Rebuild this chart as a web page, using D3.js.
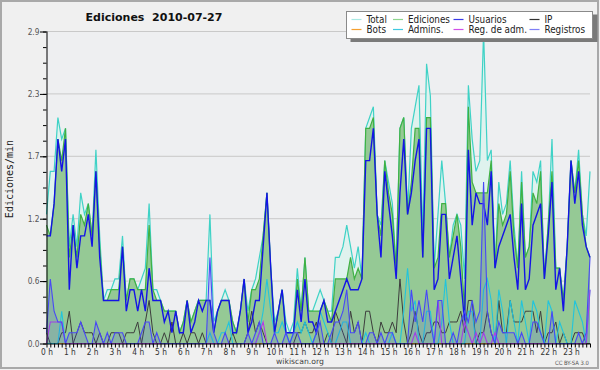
<!DOCTYPE html>
<html><head><meta charset="utf-8">
<script src="https://cdn.jsdelivr.net/npm/d3@7"></script>
<style>body{margin:0;background:#f0f0f0;} svg{display:block;}</style>
</head><body><svg id="c" width="600" height="370"></svg>
<script>
const hourLabels = ["0 h","1 h","2 h","3 h","4 h","5 h","6 h","7 h","8 h","9 h","10 h","11 h","12 h","13 h","14 h","15 h","16 h","17 h","18 h","19 h","20 h","21 h","22 h","23 h"];
const yTickLabels = ["0.0","0.6","1.2","1.7","2.3","2.9"];
const seriesNames = ["Total","Ediciones","Usuarios","IP","Bots","Admins.","Reg. de adm.","Registros"];

const total = [1.2,1.6,1.6,2.1,1.9,2.0,0.9,1.2,0.9,1.4, 1.2,1.3,1.0,1.8,1.0,0.4,0.5,0.5,0.6,0.6,
 1.0,0.4,0.6,0.6,0.5,0.6,0.7,1.3,0.5,0.5, 0.4,0.3,0.3,0.3,0.3,0.1,0.2,0.4,0.2,0.3,
 0.4,0.4,0.4,1.2,0.2,0.3,0.4,0.5,0.4,0.2, 0.1,0.3,0.6,0.3,0.5,0.6,0.8,1.0,1.4,0.7,
 0.2,0.3,0.5,0.2,0.1,0.2,0.7,0.3,0.8,0.3, 0.3,0.4,0.5,0.4,0.3,0.3,0.8,0.8,0.9,1.1,
 0.9,0.7,0.9,0.6,2.0,2.1,2.2,1.2,1.1,1.7, 1.5,1.3,0.7,2.0,2.1,1.2,2.0,2.2,2.4,1.0,
 2.6,2.3,0.7,1.2,1.7,1.3,0.8,1.1,1.2,1.1, 0.6,2.4,1.9,1.6,1.7,2.9,1.7,1.8,0.7,1.5,
 1.2,1.3,1.7,1.1,0.7,1.6,0.8,0.9,1.6,1.5, 1.7,0.6,1.1,1.9,0.7,0.7,0.4,0.9,1.7,1.4,
 1.8,1.2,1.0,1.6];
const ediciones = [1.1,1.0,1.3,1.9,1.7,2.0,0.8,1.1,0.8,1.2, 1.1,1.3,1.0,1.6,0.9,0.4,0.4,0.5,0.5,0.5,
 0.9,0.4,0.6,0.6,0.5,0.5,0.5,1.1,0.5,0.4, 0.4,0.3,0.3,0.3,0.3,0.1,0.2,0.4,0.2,0.3,
 0.4,0.4,0.4,0.4,0.1,0.3,0.4,0.4,0.4,0.2, 0.1,0.3,0.6,0.2,0.5,0.5,0.6,1.0,1.4,0.7,
 0.1,0.3,0.5,0.1,0.1,0.1,0.6,0.3,0.8,0.3, 0.3,0.3,0.3,0.4,0.3,0.2,0.6,0.6,0.6,0.6,
 0.8,0.6,0.7,0.6,2.0,2.0,2.1,1.2,1.0,1.7, 1.4,1.2,0.7,2.0,2.1,1.2,1.5,2.0,2.0,0.8,
 2.1,2.1,0.7,0.8,1.3,1.3,0.8,1.0,1.2,0.9, 0.3,2.2,1.5,1.4,1.4,1.4,1.4,1.7,0.7,1.3,
 1.1,1.2,1.6,1.0,0.7,1.5,0.8,0.9,1.4,1.3, 1.6,0.6,1.1,1.6,0.7,0.7,0.4,0.9,1.7,1.4,
 1.7,1.2,0.9,0.8];
const usuarios = [1.0,1.0,1.3,1.9,1.6,1.9,0.5,1.1,0.7,1.0, 1.0,1.2,0.9,1.6,0.8,0.4,0.4,0.4,0.4,0.4,
 0.9,0.3,0.5,0.5,0.3,0.5,0.3,0.7,0.4,0.4, 0.4,0.2,0.3,0.1,0.3,0.1,0.1,0.4,0.1,0.2,
 0.4,0.3,0.4,0.4,0.1,0.3,0.4,0.4,0.4,0.1, 0.1,0.3,0.6,0.1,0.2,0.4,0.4,0.9,1.4,0.7,
 0.1,0.3,0.5,0.1,0.1,0.1,0.5,0.2,0.6,0.2, 0.2,0.1,0.3,0.4,0.2,0.2,0.3,0.4,0.5,0.6,
 0.5,0.5,0.5,0.6,1.7,1.7,2.0,1.2,0.8,1.6, 1.3,1.0,0.6,1.4,1.9,1.2,1.4,1.7,1.9,0.8,
 2.0,2.0,0.5,0.6,1.2,1.2,0.6,0.8,1.0,0.6, 0.2,1.8,1.1,1.4,1.3,1.3,1.1,1.6,0.7,0.9,
 1.0,1.1,1.2,0.8,0.5,1.3,0.5,0.6,1.1,1.2, 1.3,0.6,1.0,1.5,0.5,0.7,0.3,0.9,1.7,1.3,
 1.6,1.1,0.9,0.8];
const ip = [0.1,0,0,0,0.1,0.1,0.3,0,0.1,0.2, 0.1,0.1,0.1,0,0.1,0,0,0.1,0.1,0.1,
 0,0.1,0.1,0.1,0.2,0,0.2,0.4,0.1,0, 0,0.1,0,0.2,0,0,0.1,0,0.1,0.1,
 0,0.1,0,0,0,0,0,0,0,0.1, 0,0,0,0.1,0.3,0.1,0.2,0.1,0,0,
 0,0,0,0,0,0,0.1,0.1,0.2,0.1, 0.1,0.2,0,0,0.1,0,0.3,0.2,0.1,0,
 0.3,0.1,0.2,0,0.3,0.3,0.1,0,0.2,0.1, 0.1,0.2,0.1,0.6,0.2,0,0.1,0.3,0.1,0,
 0.1,0.1,0.2,0.2,0.1,0.1,0.2,0.2,0.2,0.3, 0.1,0.4,0.4,0,0.1,0.1,0.3,0.1,0,0.4,
 0.1,0.1,0.4,0.2,0.2,0.2,0.3,0.3,0.3,0.1, 0.3,0,0.1,0.1,0.2,0,0.1,0,0,0.1,
 0.1,0.1,0,0];
const bots = [0,0,0,0,0,0,0,0,0,0, 0,0,0,0,0,0,0,0,0,0, 0,0,0,0,0,0,0,0,0,0, 0,0,0,0,0,0,0,0,0,0,
 0,0,0,0,0,0,0,0,0,0, 0,0,0,0,0,0,0,0,0,0, 0,0,0,0,0,0,0,0,0,0, 0,0,0,0,0,0,0,0,0,0,
 0,0,0,0,0,0,0,0,0,0, 0,0,0,0,0,0,0,0,0,0, 0,0,0,0,0,0,0,0,0,0, 0,0,0,0,0,0,0,0,0,0,
 0,0,0,0,0,0,0,0,0,0, 0,0,0,0,0,0,0,0,0,0, 0,0,0,0];
const admins = [0,0,0,0,0.3,0,0,0,0,0, 0,0,0,0,0,0,0,0,0,0, 0,0,0,0,0,0,0,0,0,0, 0,0,0,0,0,0,0,0,0,0,
 0,0,0,0.1,0,0,0.1,0.1,0.2,0, 0,0,0,0,0,0,0.1,0.3,0.6,0.3,
 0.1,0.1,0.2,0.1,0,0.1,0.2,0.1,0.2,0.1, 0,0.1,0.3,0.2,0.1,0,0,0.1,0.2,0.2,
 0,0,0,0,0.1,0,0,0,0,0, 0,0.1,0,0,0.3,0.7,0.3,0.4,0,0,
 0.3,0.3,0,0,0.2,0.6,0.2,0,0,0, 0,0.3,0.3,0,0,0.5,0.6,0.4,0,0.5,
 0.3,0,0.4,0.2,0,0.4,0.2,0,0.4,0.3, 0.1,0,0.4,0.3,0,0.2,0.1,0,0,0.4,
 0.3,0.2,0,0.5];
const regAdm = [0,0.2,0.2,0.2,0.2,0,0,0,0,0, 0,0,0,0,0,0,0,0,0,0, 0,0,0,0,0,0,0,0,0,0, 0,0,0,0,0,0,0,0,0,0,
 0,0,0,0,0,0,0,0,0,0, 0,0,0,0,0,0,0.1,0.2,0,0, 0,0,0,0,0,0,0,0,0,0, 0,0,0,0,0,0,0,0,0,0,
 0,0,0,0,0,0,0,0,0,0, 0,0,0,0,0,0,0,0.1,0,0, 0,0,0,0.4,0,0,0,0,0,0, 0.2,0.1,0,0.1,0,0.1,0,0,0.1,0,
 0,0,0,0,0,0,0,0,0,0, 0,0,0,0,0,0,0,0,0,0, 0,0,0,0.5];
const registros = [0.1,0.6,0.3,0.2,0.2,0,0.1,0.1,0.1,0.2, 0.1,0,0,0.2,0.1,0,0.1,0,0.1,0.1,
 0.1,0,0,0,0,0.1,0.2,0.2,0,0.1, 0,0,0,0,0,0,0,0,0,0,
 0,0,0,0.8,0.1,0,0,0.1,0,0, 0,0,0,0.1,0,0.1,0.2,0,0,0,
 0.1,0,0,0.1,0,0.1,0.1,0,0,0, 0,0.1,0.2,0,0,0.1,0.2,0.2,0.3,0.5,
 0.1,0.1,0.2,0,0,0.1,0.1,0,0.1,0, 0.1,0.1,0,0,0,0,0.5,0.2,0.4,0.2,
 0.5,0.2,0,0.4,0.4,0,0,0.1,0,0.2, 0.3,0.2,0.4,0.2,0.3,1.5,0.3,0.1,0,0.2,
 0.1,0.1,0.1,0.1,0,0.1,0,0,0.2,0.2, 0.1,0,0,0.3,0,0,0,0,0,0,
 0.1,0,0.1,0.8];

const W = 600, H = 370;
const svg = d3.select("#c");
const L = 46.5, R = 590, T = 31.5, B = 343.5;
const yMax = d3.max(total);
const x = d3.scaleLinear().domain([0, total.length - 1]).range([L, R]);
const y = d3.scaleLinear().domain([0, yMax]).range([B, T]);

svg.append("rect").attr("width", W).attr("height", H).attr("fill", "#f0f0f0");
svg.append("rect").attr("x", 1).attr("y", 1).attr("width", 597).attr("height", 367)
  .attr("fill", "none").attr("stroke", "#a9a9a9").attr("stroke-width", 2);
svg.append("rect").attr("x", L).attr("y", T).attr("width", R - L).attr("height", B - T).attr("fill", "#eeeff1");

// grid
const majorVals = yTickLabels.map((d, i) => i * yMax / 5);
svg.append("g").selectAll("line").data(majorVals.slice(1)).join("line")
  .attr("x1", L).attr("x2", R).attr("y1", d => y(d)).attr("y2", d => y(d))
  .attr("stroke", "#c9c9c9").attr("stroke-width", 1);

const idx = d3.range(total.length);
const area = arr => d3.area().x(i => x(i)).y0(B).y1(i => y(arr[i]))(idx);
const line = arr => d3.line().x(i => x(i)).y(i => y(arr[i]))(idx);

const plot = svg.append("g");
plot.append("path").attr("d", area(total)).attr("fill", "#dff2ee");
plot.append("path").attr("d", line(total)).attr("fill", "none").attr("stroke", "#3fd2c6").attr("stroke-width", 1.2);
plot.append("path").attr("d", area(ediciones)).attr("fill", "#95c995");
plot.append("path").attr("d", line(ediciones)).attr("fill", "none").attr("stroke", "#3fb143").attr("stroke-width", 1.2);
plot.append("path").attr("d", line(bots)).attr("fill", "none").attr("stroke", "#f5a030").attr("stroke-width", 1);
plot.append("path").attr("d", line(ip)).attr("fill", "none").attr("stroke", "#3d3d3d").attr("stroke-width", 1);
plot.append("path").attr("d", line(admins)).attr("fill", "none").attr("stroke", "#22c4dc").attr("stroke-width", 1.1);
plot.append("path").attr("d", line(usuarios)).attr("fill", "none").attr("stroke", "#1414e6").attr("stroke-width", 1.4);
plot.append("path").attr("d", line(regAdm)).attr("fill", "none").attr("stroke", "#b43ce6").attr("stroke-width", 1.1);
plot.append("path").attr("d", area(registros)).attr("fill", "rgba(70,70,240,0.16)");
plot.append("path").attr("d", line(registros)).attr("fill", "none").attr("stroke", "#4848f6").attr("stroke-width", 1.1);

// axes
const tickFont = "'DejaVu Sans Condensed', 'DejaVu Sans', sans-serif";
const minorVals = d3.range(21).map(i => i * yMax / 20);
const yMinor = svg.append("g").attr("transform", `translate(${L},0)`)
  .call(d3.axisLeft(y).tickValues(minorVals).tickSize(3.5).tickFormat(""));
yMinor.select(".domain").remove();
const yMajor = svg.append("g").attr("transform", `translate(${L},0)`)
  .call(d3.axisLeft(y).tickValues(majorVals).tickSize(6.5).tickPadding(0.5)
    .tickFormat((d, i) => yTickLabels[i]));
yMajor.select(".domain").attr("d", `M0.5,${T}V${B}`).attr("stroke", "#000");
yMajor.selectAll("text").attr("font-family", tickFont).attr("font-size", 8.3).attr("fill", "#555");
svg.selectAll(".tick line").attr("stroke", "#000");

const xAx = svg.append("g").attr("transform", `translate(0,${B})`)
  .call(d3.axisBottom(x).tickValues(idx).tickSize(4)
    .tickFormat(i => i % 6 === 0 ? hourLabels[i / 6] : ""));
xAx.select(".domain").attr("d", `M${L},0.5H${R}`).attr("stroke", "#000");
xAx.selectAll(".tick line").attr("stroke", "#000");
xAx.selectAll("text").attr("font-family", tickFont).attr("font-size", 8.3).attr("fill", "#333")
  .attr("y", 11).attr("dy", 0);

// title & labels
svg.append("text").attr("x", 154).attr("y", 21).attr("text-anchor", "middle")
  .attr("font-family", "'DejaVu Sans', sans-serif").attr("font-weight", "bold").attr("font-size", 11)
  .style("white-space", "pre").attr("fill", "#111").text("Ediciones  2010-07-27");
svg.append("text").attr("transform", "translate(13,179) rotate(-90)").attr("text-anchor", "middle")
  .attr("font-family", "'DejaVu Sans Mono', monospace").attr("font-size", 10).attr("fill", "#222")
  .text("Ediciones/min");
svg.append("text").attr("x", 300).attr("y", 364).attr("text-anchor", "middle")
  .attr("font-family", "'DejaVu Sans', sans-serif").attr("font-size", 7.7).attr("fill", "#444")
  .text("wikiscan.org");
svg.append("text").attr("x", 589).attr("y", 365).attr("text-anchor", "end")
  .attr("font-family", tickFont).attr("font-size", 5.9).attr("fill", "#555")
  .text("CC BY-SA 3.0");

// legend
const lg = svg.append("g");
lg.append("rect").attr("x", 350.5).attr("y", 14.5).attr("width", 247).attr("height", 27.5).attr("fill", "#7a7a7a");
lg.append("rect").attr("x", 346.5).attr("y", 11.5).attr("width", 246).attr("height", 27).attr("fill", "#fff")
  .attr("stroke", "#8a8a8a").attr("stroke-width", 1);
const swatch = ["#a9e9e3","#8fd68f","#3a3ae8","#333333","#f5a030","#3fc9e0","#d04fe8","#7f7ff6"];
const colX = [351.5, 393, 453.5, 529.5];
const rowY = [19.5, 29.5];
seriesNames.forEach((name, k) => {
  const cx = colX[k % 4], cy = rowY[Math.floor(k / 4)];
  lg.append("line").attr("x1", cx).attr("x2", cx + 10).attr("y1", cy).attr("y2", cy)
    .attr("stroke", swatch[k]).attr("stroke-width", 1.2);
  lg.append("text").attr("x", cx + 15).attr("y", cy + 3.3)
    .attr("font-family", tickFont).attr("font-size", 9.8).attr("fill", "#222").text(name);
});
</script></body></html>
